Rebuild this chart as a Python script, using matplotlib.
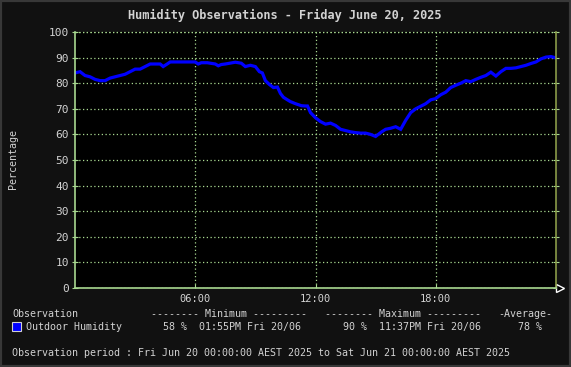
import matplotlib
matplotlib.use("Agg")
import matplotlib.pyplot as plt
from matplotlib.patches import Rectangle

# ==========================================
# DATA
# ==========================================

hours = [
    0, 0.25, 0.5, 0.75, 1.0, 1.25, 1.5, 1.75, 2.0, 2.25, 2.5, 2.75,
    3.0, 3.25, 3.5, 3.75, 4.0, 4.25, 4.4, 4.6, 4.75, 5.0, 5.5, 6.0,
    6.15, 6.3, 6.6, 7.0, 7.15, 7.3, 7.5, 8.0, 8.3, 8.5, 8.75, 9.0,
    9.2, 9.35, 9.5, 9.7, 9.9, 10.1, 10.25, 10.4, 10.6, 10.75, 11.0,
    11.3, 11.5, 11.6, 11.75, 11.9, 12.0, 12.25, 12.5, 12.75, 13.0,
    13.25, 13.5, 13.75, 14.0, 14.25, 14.5, 14.75, 15.0, 15.3, 15.5,
    15.75, 16.0, 16.25, 16.5, 16.75, 17.0, 17.25, 17.5, 17.75, 18.0,
    18.25, 18.5, 18.75, 19.0, 19.25, 19.5, 19.75, 20.0, 20.25, 20.5,
    20.75, 21.0, 21.25, 21.5, 21.75, 22.0, 22.25, 22.5, 22.75, 23.0,
    23.25, 23.5, 23.75, 23.95
]

humidity = [
    84, 84.5, 83, 82.5, 81.5, 81, 81, 82, 82.5, 83, 83.5, 84.5,
    85.5, 85.5, 86.5, 87.5, 87.5, 87.5, 86.5, 87.5, 88.3, 88.3, 88.3, 88.3,
    87.5, 88, 88, 87.5, 86.8, 87.3, 87.5, 88.2, 87.8, 86.5, 87, 86.5,
    84.5, 84, 81, 79.5, 78.3, 78.5, 76, 74.5, 73.5, 72.8, 72,
    71.2, 71.1, 71.1, 68.5, 67.3, 66.5, 65, 64, 64.4, 63.5,
    62, 61.5, 61, 60.7, 60.5, 60.5, 60, 59.2, 61, 62,
    62.4, 63, 62, 65.5, 68.5, 70, 71, 72, 73.5, 74,
    75.5, 76.5, 78.3, 79.2, 80, 81, 80.6, 81.5, 82.3, 83,
    84.3, 82.8, 84.5, 85.8, 85.8, 86, 86.5, 87, 87.7, 88.3,
    89.5, 90.2, 90.4, 90
]

y_ticks = list(range(0, 101, 10))
x_ticks = [6, 12, 18]
x_labels = ["06:00", "12:00", "18:00"]

title = "Humidity Observations - Friday June 20, 2025"
series_name = "Outdoor Humidity"

# ==========================================
# STYLE
# ==========================================

W, H = 571, 367
BG = "#111111"
TXT = "#d2d2d2"
GRID = "#a8d890"
MONO = "DejaVu Sans Mono"

fig = plt.figure(figsize=(W / 100, H / 100), dpi=100)
fig.patch.set_facecolor(BG)

# outer border
fig.patches.append(Rectangle(
    (0, 0), 1, 1,
    transform=fig.transFigure,
    fill=False,
    edgecolor="#383838",
    linewidth=3
))

left, right, top, bottom = 75, 556, 32, 288
ax = fig.add_axes([
    left / W,
    1 - bottom / H,
    (right - left) / W,
    (bottom - top) / H
])
ax.set_facecolor("black")

ax.plot(hours, humidity, color="#0000ff", linewidth=2.3, solid_joinstyle="miter")

ax.set_xlim(0, 24)
ax.set_ylim(0, 100)

ax.set_yticks(y_ticks)
ax.set_xticks(x_ticks)
ax.set_xticklabels(x_labels)

ax.grid(True, color=GRID, linestyle=(0, (1, 2)), linewidth=0.9)
ax.axhline(100, color=GRID, linestyle=(0, (1, 2)), linewidth=0.9, clip_on=False)

for s in ["top"]:
    ax.spines[s].set_visible(False)
ax.spines["left"].set_color(GRID)
ax.spines["bottom"].set_color(GRID)
ax.spines["right"].set_color("#8a9a48")
for s in ["left", "bottom", "right"]:
    ax.spines[s].set_linewidth(1.2)

ax.tick_params(axis="y", which="both", direction="inout", length=5,
               color=GRID, labelcolor=TXT, labelsize=8, pad=2,
               right=True)
ax.tick_params(axis="x", direction="in", length=3, color=GRID,
               labelcolor=TXT, labelsize=7.5, pad=4)
for lab in ax.get_xticklabels() + ax.get_yticklabels():
    lab.set_fontfamily(MONO)

# arrow at the end of the x axis
ax.plot([24.22], [0], marker=">", markersize=6, markerfacecolor="black",
        markeredgecolor="white", markeredgewidth=1, clip_on=False)

# ==========================================
# TEXTS
# ==========================================

def ftext(x, y, s, **kw):
    fig.text(x / W, 1 - y / H, s, family=MONO, color=TXT,
             va="center", **kw)

ftext(285, 15, title, ha="center", fontsize=8.6, fontweight="bold")
fig.text(13 / W, 1 - 159 / H, "Percentage", family=MONO, color=TXT,
         fontsize=7.2, rotation=90, ha="center", va="center")

fs = 7.2
ftext(12, 314, "Observation", fontsize=fs)
ftext(151, 314, "-------- Minimum ---------", fontsize=fs)
ftext(325, 314, "-------- Maximum ---------", fontsize=fs)
ftext(498, 314, "-Average-", fontsize=fs)

fig.patches.append(Rectangle(
    (12 / W, 1 - 331 / H), 9 / W, 9 / H,
    transform=fig.transFigure,
    facecolor="#0000ff",
    edgecolor="#d0d0d0",
    linewidth=0.8
))
ftext(26, 327, series_name, fontsize=fs)
ftext(163, 327, "58 %", fontsize=fs)
ftext(199, 327, "01:55PM Fri 20/06", fontsize=fs)
ftext(343, 327, "90 %", fontsize=fs)
ftext(379, 327, "11:37PM Fri 20/06", fontsize=fs)
ftext(518, 327, "78 %", fontsize=fs)

ftext(12, 353,
      "Observation period : Fri Jun 20 00:00:00 AEST 2025 to Sat Jun 21 00:00:00 AEST 2025",
      fontsize=fs)

fig.savefig("out.png", dpi=100, facecolor=BG)
plt.close(fig)
